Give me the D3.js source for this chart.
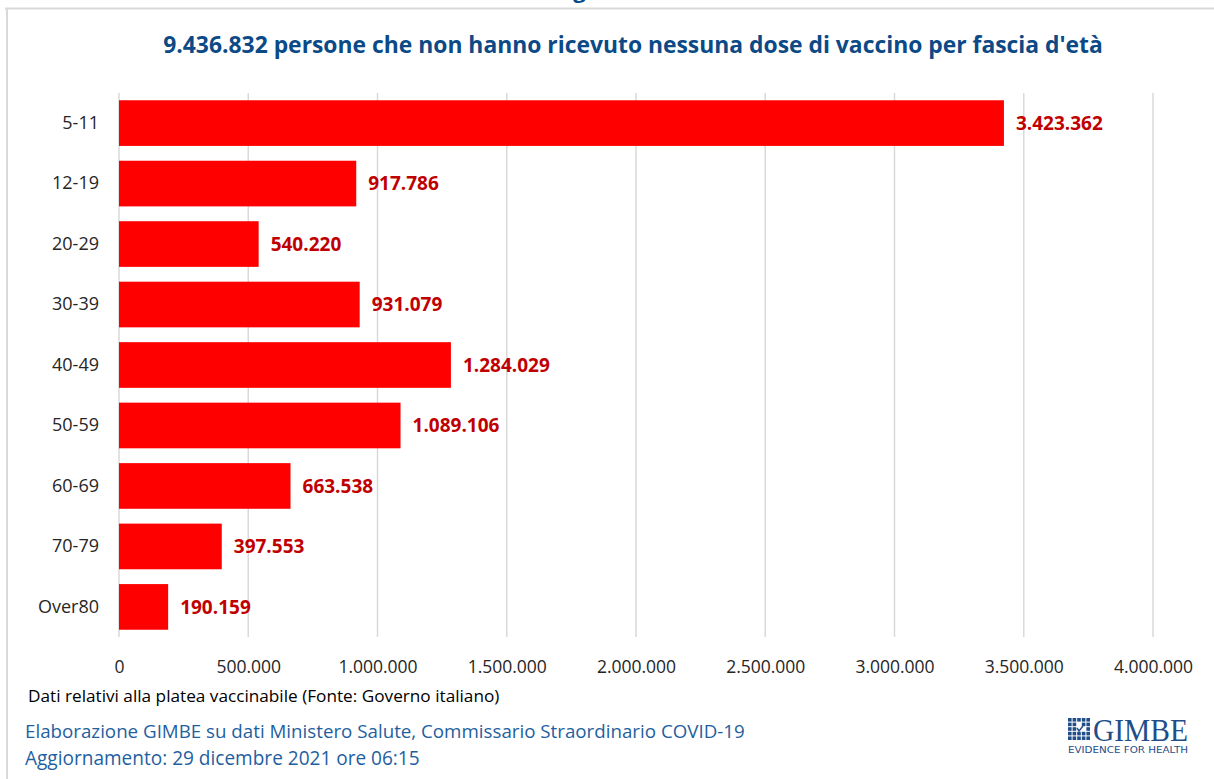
<!DOCTYPE html>
<html>
<head>
<meta charset="utf-8">
<script src="https://cdn.jsdelivr.net/npm/d3@7"></script>
<style>
  html, body { margin: 0; padding: 0; background: #fff; }
  svg { display: block; font-family: "Open Sans", sans-serif; }
</style>
</head>
<body>
<div id="chart"></div>
<script>
// data
var categories = ["5-11", "12-19", "20-29", "30-39", "40-49", "50-59", "60-69", "70-79", "Over80"];
var values = [3423362, 917786, 540220, 931079, 1284029, 1089106, 663538, 397553, 190159];
var xTicks = [0, 500000, 1000000, 1500000, 2000000, 2500000, 3000000, 3500000, 4000000];

var titleText = "9.436.832 persone che non hanno ricevuto nessuna dose di vaccino per fascia d'età";
var noteText = "Dati relativi alla platea vaccinabile (Fonte: Governo italiano)";
var sourceText = "Elaborazione GIMBE su dati Ministero Salute, Commissario Straordinario COVID-19";
var updateText = "Aggiornamento: 29 dicembre 2021 ore 06:15";

var W = 1214, H = 779;
var margin = {top: 93, right: 61, bottom: 142, left: 119};

var svg = d3.select("#chart").append("svg")
    .attr("width", W)
    .attr("height", H);

// Italian number format: 3.423.362
var fmt = d3.formatLocale({decimal: ",", thousands: ".", grouping: [3], currency: ["€", ""]}).format(",d");

// shrink/grow the font so the text spans the wanted width
function fitWidth(sel, target) {
    var fs = parseFloat(sel.attr("font-size"));
    var w = sel.node().getComputedTextLength();
    sel.attr("font-size", (fs * target / w).toFixed(2));
}

// outer frame (only top and left edges visible)
svg.append("line").attr("x1", 5).attr("x2", W).attr("y1", 8.5).attr("y2", 8.5)
    .attr("stroke", "#d9d9d9").attr("stroke-width", 2);
svg.append("line").attr("x1", 7).attr("x2", 7).attr("y1", 8).attr("y2", H)
    .attr("stroke", "#d9d9d9").attr("stroke-width", 2);

// heading cut by the top of the picture
svg.append("text")
    .attr("x", 598).attr("y", -2)
    .attr("text-anchor", "middle")
    .attr("font-size", 22).attr("font-weight", "bold")
    .attr("fill", "#0b4a86")
    .text("Figura 4");

var title = svg.append("text")
    .attr("x", 633).attr("y", 53)
    .attr("text-anchor", "middle")
    .attr("font-size", 20).attr("font-weight", "bold")
    .attr("fill", "#0b4a86")
    .text(titleText);
fitWidth(title, 940);

var g = svg.append("g")
    .attr("transform", "translate(" + margin.left + "," + margin.top + ")");

var width = W - margin.left - margin.right;
var height = H - margin.top - margin.bottom;

var x = d3.scaleLinear().domain([0, 4000000]).range([0, width]);
var y = d3.scaleBand().domain(categories).range([0, height]).paddingInner(0.245).paddingOuter(0.12);

// vertical gridlines
g.selectAll(".grid")
    .data(xTicks)
    .enter().append("line")
    .attr("class", "grid")
    .attr("x1", function(d) { return x(d); })
    .attr("x2", function(d) { return x(d); })
    .attr("y1", 0)
    .attr("y2", height)
    .attr("stroke", "#d9d9d9")
    .attr("stroke-width", 1.5);

// x axis (labels only)
var xAxis = g.append("g")
    .attr("transform", "translate(0," + height + ")")
    .call(d3.axisBottom(x).tickValues(xTicks).tickFormat(function(d) { return fmt(d); }).tickSize(0).tickPadding(24));
xAxis.select(".domain").remove();
xAxis.selectAll("text")
    .attr("font-family", "Open Sans, sans-serif")
    .attr("font-size", 17.5)
    .attr("fill", "#262626");

// y axis (labels only)
var yAxis = g.append("g")
    .call(d3.axisLeft(y).tickSize(0).tickPadding(20));
yAxis.select(".domain").remove();
yAxis.selectAll("text")
    .attr("font-family", "Open Sans, sans-serif")
    .attr("font-size", 18)
    .attr("fill", "#262626");

var rows = categories.map(function(c, i) { return {cat: c, value: values[i]}; });

g.selectAll(".bar")
    .data(rows)
    .enter().append("rect")
    .attr("class", "bar")
    .attr("x", x(0))
    .attr("y", function(d) { return y(d.cat); })
    .attr("width", function(d) { return x(d.value) - x(0); })
    .attr("height", y.bandwidth())
    .attr("fill", "#ff0000");

g.selectAll(".val")
    .data(rows)
    .enter().append("text")
    .attr("class", "val")
    .attr("x", function(d) { return x(d.value) + 12; })
    .attr("y", function(d) { return y(d.cat) + y.bandwidth() / 2; })
    .attr("dy", "0.36em")
    .attr("font-size", 19)
    .attr("font-weight", "bold")
    .attr("fill", "#c00000")
    .text(function(d) { return fmt(d.value); });

// notes
var note = svg.append("text")
    .attr("x", 28).attr("y", 702)
    .attr("font-size", 15)
    .attr("fill", "#000")
    .text(noteText);
fitWidth(note, 472);

var src = svg.append("text")
    .attr("x", 25).attr("y", 738)
    .attr("font-size", 18)
    .attr("fill", "#1f5f9f")
    .text(sourceText);
fitWidth(src, 720);

var upd = svg.append("text")
    .attr("x", 25).attr("y", 765)
    .attr("font-size", 18)
    .attr("fill", "#1f5f9f")
    .text(updateText);
fitWidth(upd, 395);

// GIMBE logo
var logo = svg.append("g").attr("transform", "translate(1068,718)");
var cells = d3.range(25);
logo.selectAll("rect")
    .data(cells)
    .enter().append("rect")
    .attr("x", function(d) { return (d % 5) * 4.6; })
    .attr("y", function(d) { return Math.floor(d / 5) * 4.6; })
    .attr("width", 3.6).attr("height", 3.6)
    .attr("fill", function(d) { return (d === 12 || d === 7 || d === 13) ? "#ffffff" : "#1f4e89"; });
logo.append("path")
    .attr("d", "M9,10 L11,13 L15,8")
    .attr("fill", "none").attr("stroke", "#1f4e89").attr("stroke-width", 1.4);
logo.append("text")
    .attr("x", 25).attr("y", 23)
    .attr("font-family", "Liberation Serif, serif")
    .attr("font-size", 32)
    .attr("textLength", 95).attr("lengthAdjust", "spacingAndGlyphs")
    .attr("fill", "#1f4e89")
    .text("GIMBE");
logo.append("text")
    .attr("x", 0).attr("y", 35)
    .attr("font-family", "DejaVu Sans, sans-serif")
    .attr("font-size", 8.5)
    .attr("textLength", 120).attr("lengthAdjust", "spacingAndGlyphs")
    .attr("fill", "#1f4e89")
    .text("EVIDENCE FOR HEALTH");
</script>
</body>
</html>
